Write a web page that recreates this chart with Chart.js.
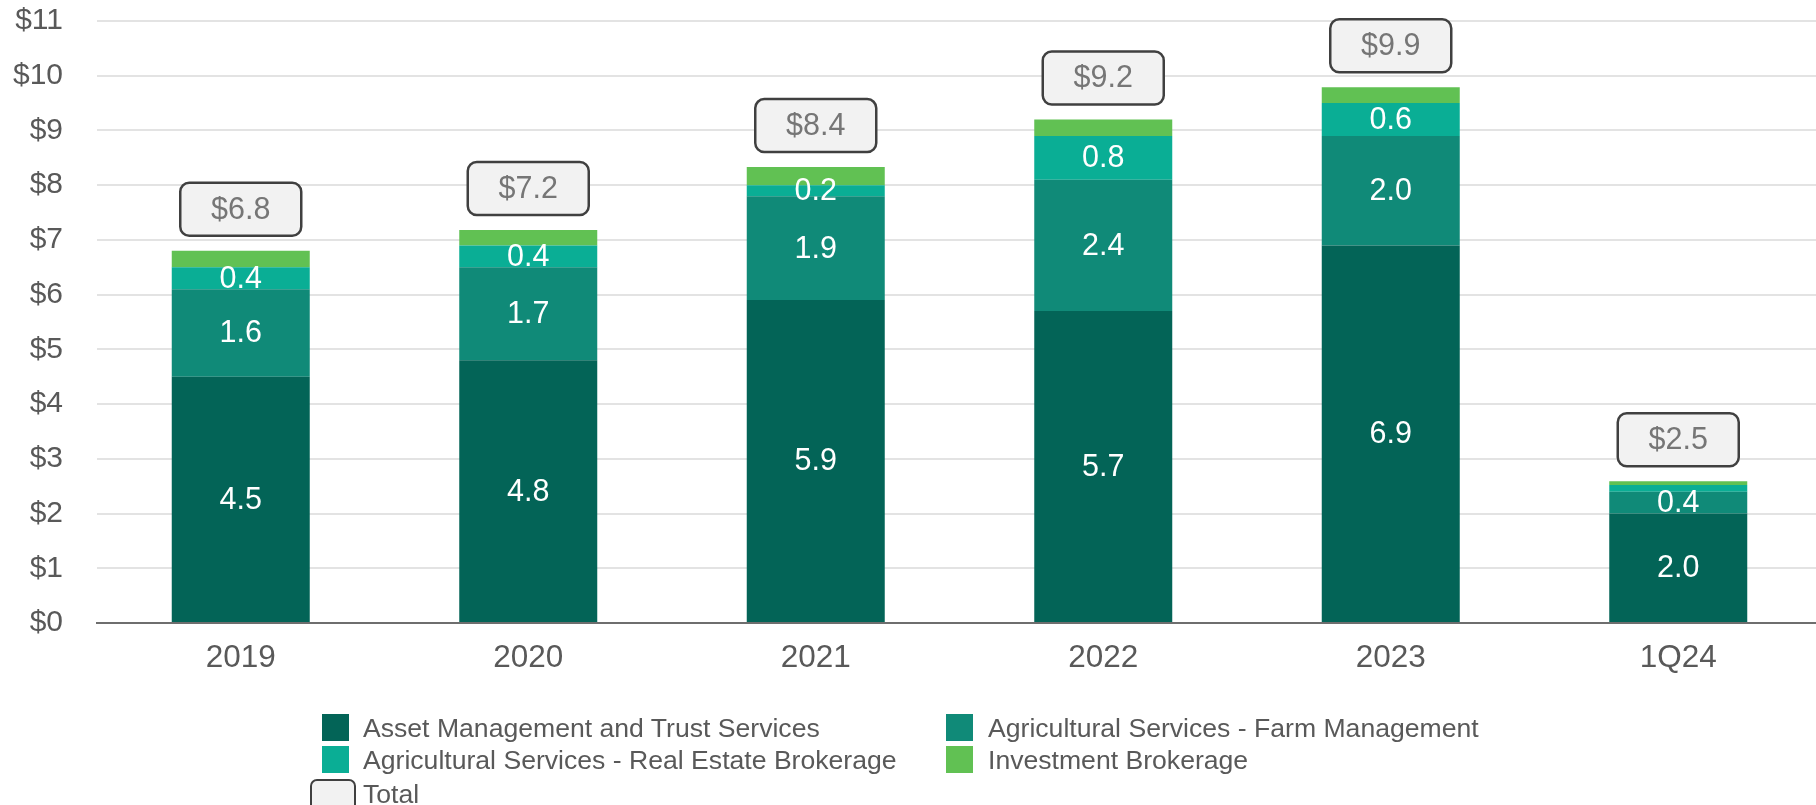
<!DOCTYPE html>
<html>
<head>
<meta charset="utf-8">
<title>Revenue by business line</title>
<script src="https://cdn.jsdelivr.net/npm/chart.js@4.4.1/dist/chart.umd.min.js"></script>
<style>
    body {
        margin: 0;
        width: 1816px;
        height: 805px;
        overflow: hidden;
        background: #ffffff;
        font-family: "Liberation Sans", Arial, sans-serif;
    }
    #wrap {
        position: relative;
        width: 1822px;
        height: 805px;
    }
    #legend .swatch {
        position: absolute;
        width: 27px;
        height: 27px;
    }
    #legend .swatch.total {
        width: 42px;
        height: 30px;
        background: #f2f2f2;
        border: 2.5px solid #404040;
        border-radius: 7px;
    }
    #legend .text {
        position: absolute;
        font-size: 26.6px;
        line-height: 30px;
        color: #595959;
        white-space: nowrap;
    }
</style>
</head>
<body>
<div id="wrap">
    <canvas id="revenueChart" width="1822" height="805"></canvas>
    <div id="legend"></div>
</div>
<script>
// Revenue ($ millions) by business line
const categories = ['2019', '2020', '2021', '2022', '2023', '1Q24'];
const assetMgmt = [4.5, 4.8, 5.9, 5.7, 6.9, 2.0];
const farmMgmt = [1.6, 1.7, 1.9, 2.4, 2.0, 0.4];
const realEstate = [0.4, 0.4, 0.2, 0.8, 0.6, 0.12];
const investment = [0.3, 0.28, 0.33, 0.3, 0.29, 0.07];
const totals = [6.8, 7.2, 8.4, 9.2, 9.9, 2.5];
const yMax = 11;

const seriesNames = [
    'Asset Management and Trust Services',
    'Agricultural Services - Farm Management',
    'Agricultural Services - Real Estate Brokerage',
    'Investment Brokerage'
];
const seriesColors = ['#036457', '#108a78', '#0aae95', '#61c153'];

const FONT = '"Liberation Sans", Arial, sans-serif';

// Values inside segments and the boxed totals above each stack
const barLabels = {
    id: 'barLabels',
    afterDatasetsDraw(chart) {
        const ctx = chart.ctx;
        ctx.save();
        ctx.font = '30.5px ' + FONT;
        ctx.textAlign = 'center';
        ctx.textBaseline = 'middle';

        ctx.fillStyle = '#ffffff';
        [0, 1, 2].forEach(di => {
            const meta = chart.getDatasetMeta(di);
            meta.data.forEach((bar, i) => {
                const v = chart.data.datasets[di].data[i];
                if (v < 0.15) return; // too thin to label
                ctx.fillText(v.toFixed(1), bar.x, (bar.y + bar.base) / 2 + 1);
            });
        });

        const topMeta = chart.getDatasetMeta(3);
        topMeta.data.forEach((bar, i) => {
            const boxW = 121, boxH = 53;
            const x0 = bar.x - boxW / 2;
            const y0 = bar.y - 15 - boxH;
            ctx.beginPath();
            ctx.roundRect(x0, y0, boxW, boxH, 9);
            ctx.fillStyle = '#f2f2f2';
            ctx.fill();
            ctx.lineWidth = 2.5;
            ctx.strokeStyle = '#404040';
            ctx.stroke();
            ctx.fillStyle = '#767676';
            ctx.fillText('$' + totals[i].toFixed(1), bar.x, y0 + boxH / 2 + 1);
        });
        ctx.restore();
    }
};

function buildLegend() {
    const legend = document.getElementById('legend');
    const spots = [
        { sx: 322, sy: 714, tx: 363 },
        { sx: 946, sy: 714, tx: 988 },
        { sx: 322, sy: 746, tx: 363 },
        { sx: 946, sy: 746, tx: 988 }
    ];
    seriesNames.forEach((name, i) => {
        const sw = document.createElement('div');
        sw.className = 'swatch';
        sw.style.left = spots[i].sx + 'px';
        sw.style.top = spots[i].sy + 'px';
        sw.style.background = seriesColors[i];
        legend.appendChild(sw);

        const tx = document.createElement('div');
        tx.className = 'text';
        tx.style.left = spots[i].tx + 'px';
        tx.style.top = (spots[i].sy - 1) + 'px';
        tx.textContent = name;
        legend.appendChild(tx);
    });

    const box = document.createElement('div');
    box.className = 'swatch total';
    box.style.left = '310px';
    box.style.top = '779px';
    legend.appendChild(box);

    const label = document.createElement('div');
    label.className = 'text';
    label.style.left = '363px';
    label.style.top = '779px';
    label.textContent = 'Total';
    legend.appendChild(label);
}

const datasets = [assetMgmt, farmMgmt, realEstate, investment].map((data, i) => ({
    label: seriesNames[i],
    data: data,
    backgroundColor: seriesColors[i],
    borderWidth: 0,
    categoryPercentage: 1,
    barPercentage: 0.48
}));

new Chart(document.getElementById('revenueChart'), {
    type: 'bar',
    data: { labels: categories, datasets: datasets },
    options: {
        responsive: false,
        animation: false,
        devicePixelRatio: 1,
        layout: { padding: { top: 21, right: 0, bottom: 0, left: 0 } },
        plugins: {
            legend: { display: false },
            tooltip: { enabled: false }
        },
        scales: {
            x: {
                stacked: true,
                grid: { display: false, drawTicks: false },
                border: { display: true, color: '#6e6e6e', width: 2 },
                ticks: {
                    color: '#595959',
                    font: { family: FONT, size: 31.5 },
                    padding: 16
                },
                afterFit(scale) { scale.height = 182; }
            },
            y: {
                stacked: true,
                min: 0,
                max: yMax,
                grid: { color: '#e3e3e3', lineWidth: 2, drawTicks: false },
                border: { display: false },
                ticks: {
                    stepSize: 1,
                    color: '#595959',
                    font: { family: FONT, size: 30 },
                    padding: 34,
                    callback: value => '$' + value
                },
                afterFit(scale) {
                    // keep the wide label gap from pushing the plot down
                    scale.width = 97;
                    scale.paddingTop = 15;
                    scale.paddingBottom = 15;
                }
            }
        }
    },
    plugins: [barLabels]
});

buildLegend();
</script>
</body>
</html>
